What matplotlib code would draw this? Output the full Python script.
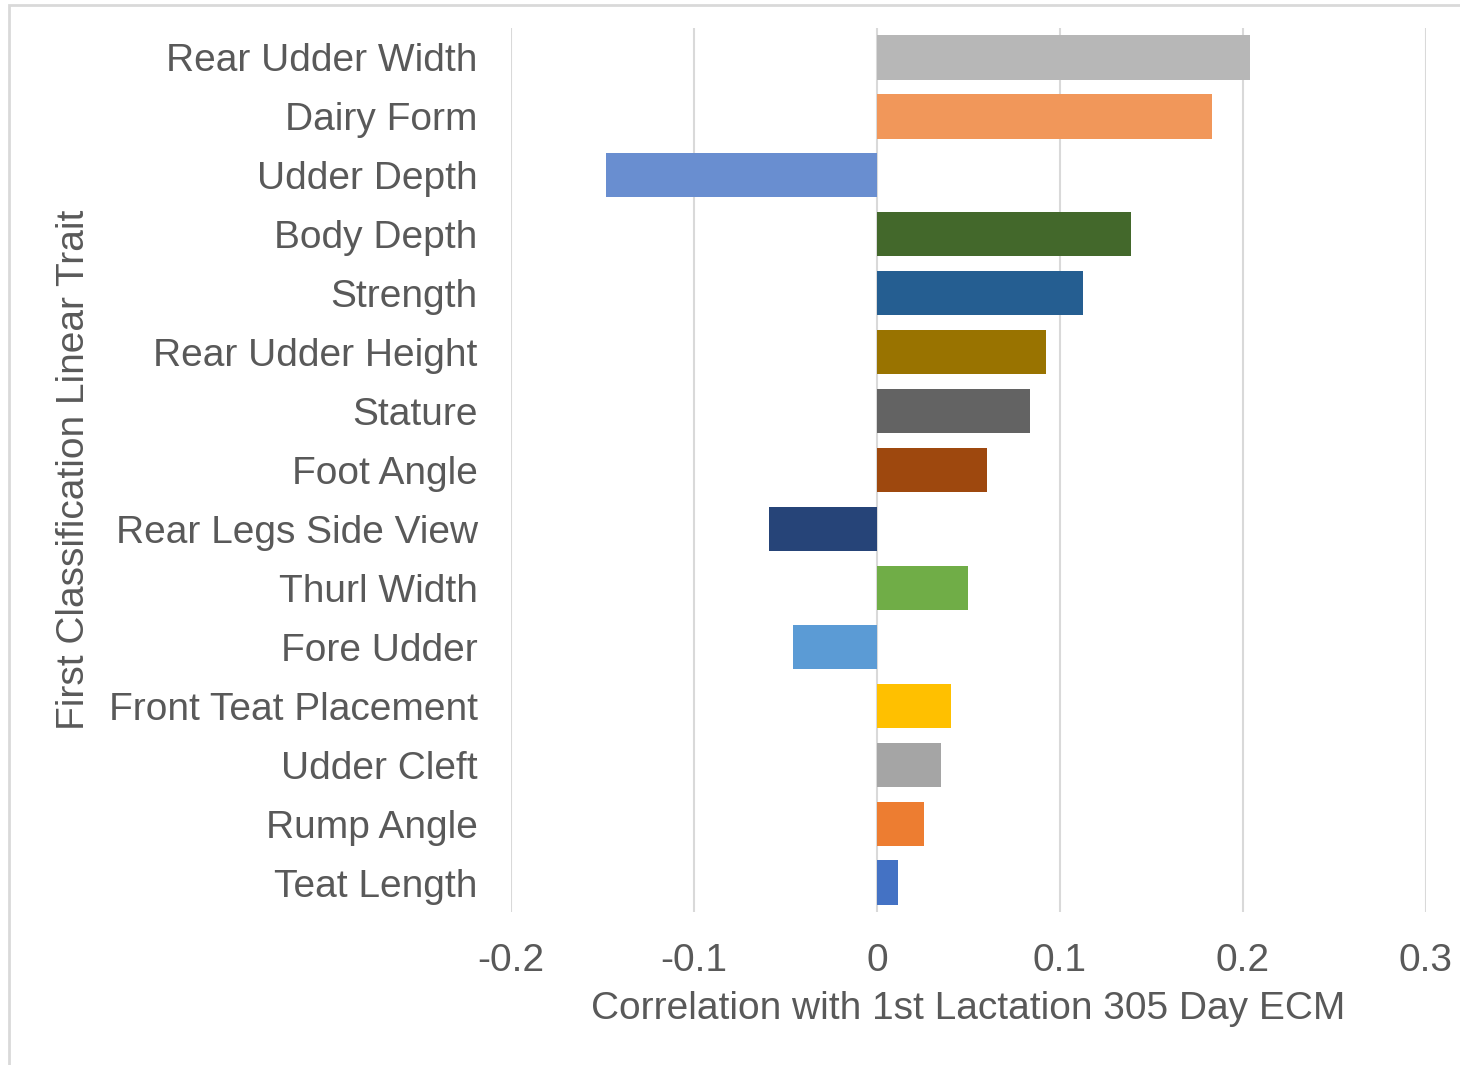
import matplotlib
matplotlib.use("Agg")
import matplotlib.pyplot as plt
from matplotlib.patches import Rectangle

# data -------------------------------------------------------------------------
traits = ["Rear Udder Width", "Dairy Form", "Udder Depth", "Body Depth", "Strength",
          "Rear Udder Height", "Stature", "Foot Angle", "Rear Legs Side View",
          "Thurl Width", "Fore Udder", "Front Teat Placement", "Udder Cleft",
          "Rump Angle", "Teat Length"]
corr = [0.204, 0.183, -0.148, 0.139, 0.1125, 0.0925, 0.0835, 0.060, -0.059,
        0.0497, -0.0459, 0.0404, 0.035, 0.0257, 0.0115]
colors = ["#B7B7B7", "#F1975A", "#698ED0", "#43682B", "#255E91", "#997300",
          "#636363", "#9E480E", "#264478", "#70AD47", "#5B9BD5", "#FFC000",
          "#A5A5A5", "#ED7D31", "#4472C4"]
xticks = [-0.2, -0.1, 0, 0.1, 0.2, 0.3]
xtick_labels = ["-0.2", "-0.1", "0", "0.1", "0.2", "0.3"]

TXT = "#595959"
GRID = "#D9D9D9"
FS = 28
plt.rcParams['font.family'] = ['Liberation Sans', 'DejaVu Sans']

fig = plt.figure(figsize=(14.6, 10.65), dpi=100)
ax = fig.add_axes([511/1460, 1-912/1065, (1426-511)/1460, (912-28)/1065])

ypos = list(range(len(traits)))
ax.barh(ypos, corr, height=0.75, color=colors, zorder=3)

ax.set_xlim(-0.2, 0.3)
ax.set_ylim(len(traits)-0.5, -0.5)
ax.set_xticks(xticks)
ax.set_xticklabels(xtick_labels)
ax.set_yticks(ypos)
ax.set_yticklabels(traits)
ax.tick_params(axis='both', length=0, labelsize=FS, labelcolor=TXT)
ax.tick_params(axis='y', pad=24)
ax.tick_params(axis='x', pad=22)
ax.xaxis.grid(True, color=GRID, linewidth=1.5, zorder=0)
for s in ax.spines.values():
    s.set_visible(False)

ax.set_xlabel("Correlation with 1st Lactation 305 Day ECM", fontsize=FS, color=TXT, labelpad=9)
ax.set_ylabel("First Classification Linear Trait", fontsize=FS, color=TXT, labelpad=12)

# chart frame (runs off the right and bottom edge)
fig.patches.append(Rectangle((9/1460, -0.1), 1.2, 1.1 - 5/1065, transform=fig.transFigure,
                             fill=False, edgecolor=GRID, linewidth=2))

fig.savefig("out.png", dpi=100)
